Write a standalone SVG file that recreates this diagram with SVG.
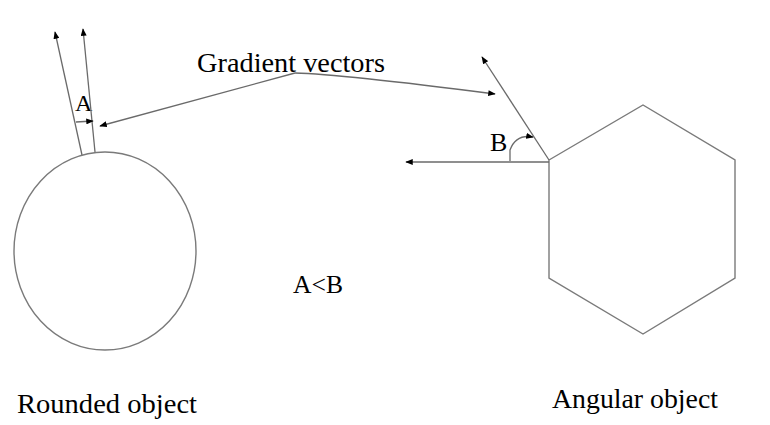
<svg xmlns="http://www.w3.org/2000/svg" width="770" height="425" viewBox="0 0 770 425">
<style>
.ln{fill:none;stroke:#6a6a6a;stroke-width:1.3}
.sh{fill:none;stroke:#7a7a7a;stroke-width:1.4}
text{font-family:'Liberation Serif','DejaVu Serif','Noto Serif','Times New Roman',serif;fill:#000}
</style>
<defs>
<marker id="ah" viewBox="0 0 10 8" refX="9" refY="4" markerWidth="8" markerHeight="6" orient="auto" markerUnits="userSpaceOnUse">
<path d="M0,0 L10,4 L0,8 Z" fill="#000"/>
</marker>
</defs>
<rect width="770" height="425" fill="#fff"/>
<g id="rounded">
<ellipse class="sh" cx="105" cy="251" rx="91" ry="99"/>
<text x="17" y="413" font-size="28" textLength="180" lengthAdjust="spacingAndGlyphs">Rounded object</text>
</g>
<g id="angular">
<polygon class="sh" points="549,160 643,105 735,160 735,278 643,334 549,278"/>
<text x="552" y="408" font-size="28" textLength="166" lengthAdjust="spacingAndGlyphs">Angular object</text>
</g>
<g id="labels">
<text x="197" y="72" font-size="28" textLength="188" lengthAdjust="spacingAndGlyphs">Gradient vectors</text>
<text x="293" y="293" font-size="26" textLength="50" lengthAdjust="spacingAndGlyphs">A&lt;B</text>
<text x="75" y="111" font-size="24">A</text>
<text x="490" y="151" font-size="26">B</text>
</g>
<g id="connectors">
<line class="ln" x1="82" y1="155" x2="55" y2="32" marker-end="url(#ah)"/>
<line class="ln" x1="95" y1="152" x2="83" y2="29" marker-end="url(#ah)"/>
<line class="ln" x1="76" y1="122" x2="93" y2="121" marker-end="url(#ah)"/>
<path class="ln" d="M295,73 L100,126" marker-end="url(#ah)"/>
<path class="ln" d="M295,73 Q340,74 495,94" marker-end="url(#ah)"/>
<line class="ln" x1="549" y1="160" x2="482" y2="57" marker-end="url(#ah)"/>
<line class="ln" x1="549" y1="162" x2="406" y2="162" marker-end="url(#ah)"/>
<path class="ln" d="M510,161 L510,150 Q516,134 533,137" marker-end="url(#ah)"/>
</g>
</svg>
